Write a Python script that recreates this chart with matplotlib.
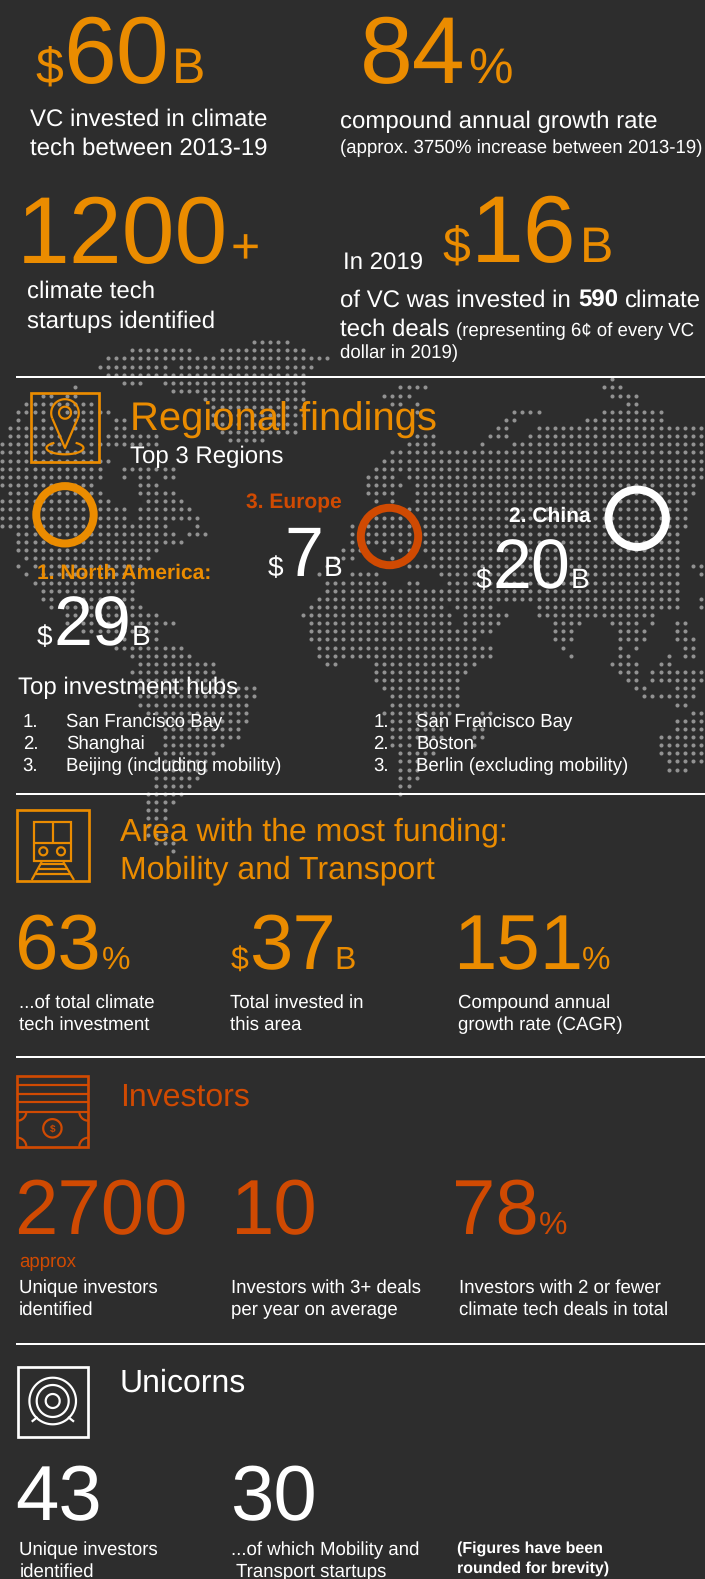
import numpy as np
import matplotlib
matplotlib.use('Agg')
import matplotlib.pyplot as plt
from matplotlib.patches import Circle, Rectangle

plt.rcParams['font.family'] = ['Liberation Sans', 'DejaVu Sans']
plt.rcParams['text.hinting'] = 'no_hinting'

BG = '#2d2d2d'
ORANGE = '#eb8c00'
RED = '#d04a02'
WHITE = '#ffffff'
DOT = '#929292'

# headline numbers
TOTAL_VC = '60'
CAGR = '84'
STARTUPS = '1200'
VC_2019 = '16'
DEALS_2019 = '590'
REGION_NAMES = ['1. North America:', '2. China', '3. Europe']
REGION_VALUES = ['29', '20', '7']
HUBS_WITH = ['San Francisco Bay', 'Shanghai', 'Beijing (including mobility)']
HUBS_WITHOUT = ['San Francisco Bay', 'Boston', 'Berlin (excluding mobility)']
MOBILITY_VALUES = ['63', '37', '151']
INVESTOR_VALUES = ['2700', '10', '78']
UNICORN_VALUES = ['43', '30']

# dot map, column runs per row. top block sits half a step off the main block
TOP_ROWS = {
    0: [(31, 35)],
    1: [(16, 23), (27, 37)],
    2: [(13, 40)],
    3: [(12, 20), (22, 38)],
    4: [(13, 19), (20, 37)],
    5: [(15, 17), (20, 37)],
    6: [(21, 37)],
    7: [(25, 37)],
    8: [(26, 37)],
    9: [(26, 37)],
    10: [(26, 36)],
    11: [(27, 36)],
    12: [(28, 32)],
}
MAIN_ROWS = {
    0: [(75, 75)],
    1: [(9, 9), (49, 52), (74, 76)],
    2: [(5, 6), (8, 9), (47, 50), (75, 78)],
    3: [(3, 11), (48, 49), (51, 51), (77, 78)],
    4: [(2, 5), (8, 13), (51, 51), (63, 66), (74, 81)],
    5: [(2, 2), (5, 5), (9, 11), (14, 15), (62, 63), (72, 81)],
    6: [(1, 6), (9, 11), (14, 15), (61, 62), (66, 86)],
    7: [(1, 7), (10, 11), (13, 19), (51, 53), (60, 62), (65, 86)],
    8: [(0, 7), (11, 19), (50, 53), (59, 59), (63, 86)],
    9: [(0, 11), (48, 86)],
    10: [(0, 13), (47, 86)],
    11: [(0, 12), (15, 21), (46, 86)],
    12: [(0, 12), (15, 15), (17, 18), (20, 21), (45, 48), (50, 86)],
    13: [(0, 11), (17, 19), (45, 49), (51, 85)],
    14: [(1, 12), (17, 21), (45, 48), (51, 85)],
    15: [(0, 13), (18, 22), (46, 46), (48, 48), (51, 84)],
    16: [(0, 15), (17, 23), (50, 84)],
    17: [(0, 15), (17, 24), (45, 50), (52, 84)],
    18: [(0, 20), (24, 24), (43, 43), (45, 50), (52, 84)],
    19: [(2, 21), (23, 25), (43, 43), (45, 50), (52, 83)],
    20: [(2, 22), (43, 50), (52, 83)],
    21: [(2, 19), (42, 44), (47, 47), (49, 50), (52, 83)],
    22: [(3, 18), (41, 43), (48, 48), (53, 83)],
    23: [(2, 2), (4, 17), (40, 40), (50, 83), (85, 86)],
    24: [(3, 3), (5, 16), (39, 39), (43, 46), (54, 83), (86, 86)],
    25: [(4, 16), (40, 47), (50, 51), (55, 83)],
    26: [(5, 16), (40, 83)],
    27: [(5, 6), (8, 16), (39, 83), (86, 86)],
    28: [(6, 6), (8, 17), (38, 54), (56, 60), (66, 83), (86, 86)],
    29: [(8, 19), (37, 55), (57, 62), (66, 80)],
    30: [(8, 21), (38, 55), (57, 61), (68, 71), (75, 78), (80, 80), (83, 84)],
    31: [(10, 19), (38, 60), (68, 70), (76, 79), (83, 84)],
    32: [(14, 15), (19, 19), (38, 58), (68, 70), (76, 79), (83, 85)],
    33: [(14, 22), (39, 60), (69, 69), (76, 76), (78, 78), (84, 85)],
    34: [(16, 23), (39, 60), (70, 70), (76, 77), (82, 82), (84, 85)],
    35: [(17, 26), (40, 41), (46, 58), (75, 78), (81, 82)],
    36: [(16, 26), (46, 57), (76, 78), (80, 86)],
    37: [(17, 27), (46, 56), (77, 78), (80, 86)],
    38: [(17, 31), (47, 56), (78, 79), (83, 85)],
    39: [(17, 31), (48, 56), (79, 85)],
    40: [(17, 30), (48, 56), (83, 84)],
    41: [(18, 30), (47, 55), (59, 60), (85, 86)],
    42: [(20, 30), (48, 54), (58, 59), (83, 86)],
    43: [(20, 29), (48, 54), (58, 59), (83, 86)],
    44: [(20, 29), (48, 54), (58, 59), (81, 86)],
    45: [(20, 27), (48, 50), (58, 58), (81, 86)],
    46: [(19, 26), (49, 53), (81, 86)],
    47: [(19, 25), (49, 51), (82, 86)],
    48: [(19, 25), (49, 51), (82, 84)],
    49: [(19, 24), (49, 51)],
    50: [(19, 23), (49, 50)],
    51: [(18, 22), (49, 49)],
    52: [(18, 21)],
    53: [(18, 20)],
    54: [(18, 20)],
    55: [(18, 19)],
    56: [(18, 20)],
    57: [(19, 21)],
    58: [(21, 21)],
}

fig = plt.figure(figsize=(7.05, 15.79), dpi=100, facecolor=BG)
ax = fig.add_axes([0, 0, 1, 1])
ax.set_xlim(0, 705)
ax.set_ylim(1579, 0)
ax.axis('off')

PX = 0.72  # one pixel in points


def txt(x, y, s, size=18.67, color=WHITE, weight='normal'):
    ax.text(x, y, s, fontsize=size * PX, color=color, fontweight=weight,
            ha='left', va='baseline', zorder=5)


def value(xs, y, s, unit_left, unit_right, big, small, color):
    # "$60B" style number: x positions of prefix, number and suffix
    if unit_left:
        txt(xs[0], y, unit_left, small, color)
    txt(xs[1], y, s, big, color)
    if unit_right:
        txt(xs[2], y, unit_right, small, color)


def line(xs, ys, color, lw=2.2, z=4):
    ax.plot(xs, ys, color=color, lw=lw * PX, solid_capstyle='butt', zorder=z)


def arc(cx, cy, rx, ry, t0, t1, color, lw=2.2):
    t = np.radians(np.linspace(t0, t1, 80))
    line(cx + rx * np.cos(t), cy - ry * np.sin(t), color, lw)


def box(x0, y0, x1, y1, color, lw=2.7):
    ax.add_patch(Rectangle((x0, y0), x1 - x0, y1 - y0, fill=False, ec=color, lw=lw * PX, zorder=4))


def ring(cx, cy, color):
    ax.add_patch(Circle((cx, cy), 28.7, fill=False, ec=color, lw=8 * PX, zorder=4))


def draw_dots(rows, y0):
    xs, ys = [], []
    for row, runs in rows.items():
        for a, b in runs:
            for c in range(a, b + 1):
                xs.append(2 + 8.13 * c)
                ys.append(y0 + 8.13 * row)
    ax.scatter(xs, ys, s=8.6, c=DOT, linewidths=0, zorder=1)


draw_dots(TOP_ROWS, 342.2)
draw_dots(MAIN_ROWS, 379.3)

# separators
for y in [376.7, 794, 1057.3, 1343.7]:
    line([16, 705], [y, y], WHITE, 2.0)

# top block
value([35, 62.7, 171.5], 83, TOTAL_VC, '$', 'B', 95, 50, ORANGE)
txt(30.5, 126, 'VC invested in climate', 24)
txt(30.5, 155, 'tech between 2013-19', 24)
value([0, 360, 468], 83, CAGR, '', '%', 95, 50, ORANGE)
txt(340, 128, 'compound annual growth rate', 24)
txt(340, 153, '(approx. 3750% increase between 2013-19)', 18.67)
value([0, 17, 230.7], 263, STARTUPS, '', '+', 95, 50, ORANGE)
txt(27, 298, 'climate tech', 24)
txt(27, 328, 'startups identified', 24)
txt(342.6, 270, 'In 2019', 24)
value([442, 471, 580], 262, VC_2019, '$', 'B', 95, 50, ORANGE)
txt(340, 307, 'of VC was invested in', 24)
txt(578, 307, DEALS_2019, 24, WHITE, 'bold')
txt(625, 307, 'climate', 24)
txt(340, 336, 'tech deals', 24)
txt(456.4, 336, '(representing 6¢ of every VC', 18.67)
txt(340, 358, 'dollar in 2019)', 18.67)

# regional findings
box(30.7, 393.3, 99.3, 461.7, ORANGE)
arc(65, 413, 13.8, 13.8, -23.2, 203.2, ORANGE)
t = np.radians([-23.2, 203.2])
tipx = 65 + 13.8 * np.cos(t)
tipy = 413 - 13.8 * np.sin(t)
line([tipx[0], 65, tipx[1]], [tipy[0], 448, tipy[1]], ORANGE)
arc(65, 412.7, 6, 6, 0, 360, ORANGE)
arc(65, 448, 18.5, 6.3, 125, 415, ORANGE)
txt(129.5, 430.7, 'Regional findings', 40, ORANGE)
txt(129.5, 463.3, 'Top 3 Regions', 24)

ring(65, 514.8, ORANGE)
ring(389.5, 536.5, RED)
ring(637.2, 518.3, WHITE)
txt(36.7, 578.7, REGION_NAMES[0], 21, ORANGE, 'bold')
txt(509, 521.7, REGION_NAMES[1], 21, WHITE, 'bold')
txt(246, 509, REGION_NAMES[2], 21, RED, 'bold')
value([36.7, 53, 132], 645, REGION_VALUES[0], '$', 'B', 70, 28, WHITE)
value([476, 492.5, 571], 588.3, REGION_VALUES[1], '$', 'B', 70, 28, WHITE)
value([267.3, 284, 323.5], 576, REGION_VALUES[2], '$', 'B', 70, 28, WHITE)

txt(18.3, 694, 'Top investment hubs', 24)
for i, y in enumerate([726.7, 748.7, 770.7]):
    txt(22.7, y, f'{i + 1}.')
    txt(66, y, HUBS_WITH[i])
    txt(373.3, y, f'{i + 1}.')
    txt(416, y, HUBS_WITHOUT[i])

# mobility and transport
box(16.7, 810, 88.7, 881.3, ORANGE)
box(34.3, 821.7, 71, 861, ORANGE, 2.2)
line([52.6, 52.6], [821.7, 842.7], ORANGE)
line([34.3, 71], [842.7, 842.7], ORANGE)
arc(43.3, 851.3, 4, 4, 0, 360, ORANGE)
arc(61, 851.3, 4, 4, 0, 360, ORANGE)
line([41.7, 31.7], [862, 880], ORANGE)
line([63.3, 74], [862, 880], ORANGE)
for y, x0, x1 in [(863.5, 41, 64), (868.5, 38.5, 66.5), (873.5, 35.5, 69.5)]:
    line([x0, x1], [y, y], ORANGE)
txt(120, 840.7, 'Area with the most funding:', 32, ORANGE)
txt(120, 878.7, 'Mobility and Transport', 32, ORANGE)
value([0, 13.7, 102.3], 969, MOBILITY_VALUES[0], '', '%', 78, 32, ORANGE)
value([230.7, 249.3, 334], 969, MOBILITY_VALUES[1], '$', 'B', 78, 32, ORANGE)
value([0, 453, 582], 969, MOBILITY_VALUES[2], '', '%', 78, 32, ORANGE)
txt(19, 1008, '...of total climate')
txt(19, 1030, 'tech investment')
txt(230.3, 1008, 'Total invested in')
txt(230.3, 1030, 'this area')
txt(458, 1008, 'Compound annual')
txt(458, 1030, 'growth rate (CAGR)')

# investors
box(17.3, 1076, 88.3, 1146.7, RED)
for y in [1085, 1094, 1102.3, 1111.7]:
    line([17.3, 88.3], [y, y], RED)
arc(17.3, 1111.7, 9, 9, -90, 0, RED)
arc(88.3, 1111.7, 9, 9, 180, 270, RED)
arc(17.3, 1146.7, 9, 9, 0, 90, RED)
arc(88.3, 1146.7, 9, 9, 90, 180, RED)
arc(52.4, 1128.3, 9.2, 9.2, 0, 360, RED)
txt(49.5, 1132, '$', 10, RED, 'bold')
txt(120, 1105.7, 'Investors', 32, RED)
value([0, 14.5, 0], 1234, INVESTOR_VALUES[0], '', '', 78, 32, RED)
value([0, 230, 0], 1234, INVESTOR_VALUES[1], '', '', 78, 32, RED)
value([0, 452.5, 538.6], 1234, INVESTOR_VALUES[2], '', '%', 78, 32, RED)
txt(19, 1266.7, 'approx', 18.67, RED)
txt(19, 1292.7, 'Unique investors')
txt(19, 1314.7, 'identified')
txt(230.7, 1292.7, 'Investors with 3+ deals')
txt(230.7, 1314.7, 'per year on average')
txt(458.6, 1292.7, 'Investors with 2 or fewer')
txt(458.6, 1314.7, 'climate tech deals in total')

# unicorns
box(17.7, 1366.5, 88.3, 1437, WHITE)
arc(52.7, 1401, 23.3, 23.3, 0, 360, WHITE)
arc(52.7, 1401, 16, 16, 0, 360, WHITE)
arc(52.7, 1401, 7, 7, 0, 360, WHITE)
line([31.7, 37.5], [1421.7, 1417], WHITE)
line([74, 68], [1421.7, 1417], WHITE)
txt(120, 1391.7, 'Unicorns', 32)
value([0, 15.7, 0], 1520, UNICORN_VALUES[0], '', '', 78, 32, WHITE)
value([0, 230, 0], 1520, UNICORN_VALUES[1], '', '', 78, 32, WHITE)
txt(19.3, 1555, 'Unique investors')
txt(19.3, 1576.7, 'identified')
txt(230.7, 1555, '...of which Mobility and')
txt(236, 1576.7, 'Transport startups')
txt(457, 1553, '(Figures have been', 16, WHITE, 'bold')
txt(457, 1573, 'rounded for brevity)', 16, WHITE, 'bold')

fig.savefig('out.png', dpi=100, facecolor=BG)
